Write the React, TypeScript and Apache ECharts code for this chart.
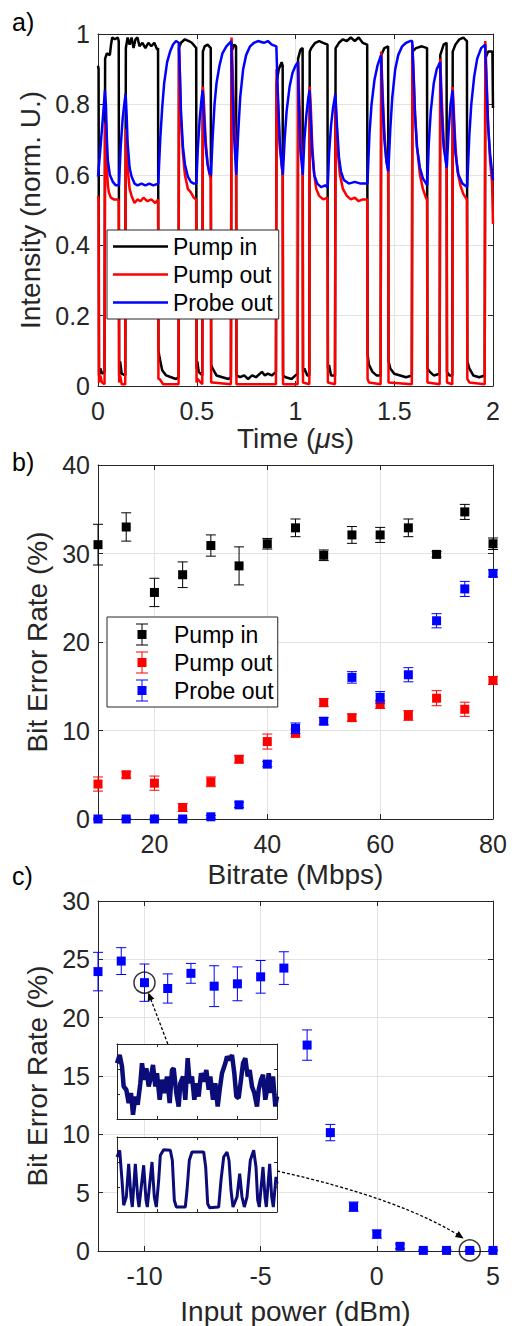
import React, { useEffect, useRef } from "react";
import * as echarts from "echarts";

// ---------------- Panel a: time traces (t in µs, normalized intensity) ----------------
const PUMP_IN_TRACE: number[][] = [
  [0, 0.91], [0.003, 0.9], [0.005, 0.03], [0.012, 0.05], [0.02, 0.035], [0.033, 0.04],
  [0.036, 0.93], [0.045, 0.945], [0.06, 0.94], [0.066, 0.97], [0.072, 0.99], [0.085, 0.985], [0.1, 0.99], [0.105, 0.98],
  [0.107, 0.03], [0.112, 0.07], [0.12, 0.035], [0.138, 0.03],
  [0.141, 0.96], [0.15, 0.99], [0.16, 0.97], [0.17, 0.99], [0.18, 0.96], [0.19, 0.985], [0.2, 0.99], [0.21, 0.965], [0.225, 0.975], [0.24, 0.96], [0.255, 0.975], [0.27, 0.965], [0.285, 0.975], [0.3, 0.955], [0.304, 0.96],
  [0.306, 0.1], [0.312, 0.08], [0.325, 0.045], [0.345, 0.03], [0.37, 0.025], [0.395, 0.02], [0.408, 0.025],
  [0.41, 0.96], [0.42, 0.975], [0.44, 0.985], [0.46, 0.98], [0.475, 0.975], [0.49, 0.965], [0.497, 0.96],
  [0.499, 0.05], [0.503, 0.07], [0.51, 0.04], [0.528, 0.03],
  [0.531, 0.95], [0.54, 0.965], [0.555, 0.97], [0.571, 0.96],
  [0.573, 0.06], [0.58, 0.05], [0.6, 0.03], [0.63, 0.025], [0.66, 0.02], [0.673, 0.025],
  [0.676, 0.95], [0.69, 0.97], [0.699, 0.965],
  [0.701, 0.03], [0.72, 0.025], [0.74, 0.03], [0.76, 0.02], [0.78, 0.03], [0.8, 0.025], [0.83, 0.04], [0.845, 0.03], [0.86, 0.035], [0.88, 0.03], [0.901, 0.04],
  [0.904, 0.86], [0.915, 0.9], [0.93, 0.92], [0.935, 0.91],
  [0.937, 0.03], [0.95, 0.025], [0.98, 0.02], [1.0, 0.03], [1.011, 0.035],
  [1.013, 0.93], [1.025, 0.955], [1.036, 0.96],
  [1.038, 0.04], [1.045, 0.05], [1.06, 0.03], [1.07, 0.03],
  [1.072, 0.95], [1.08, 0.96], [1.1, 0.975], [1.12, 0.98], [1.14, 0.975], [1.162, 0.97],
  [1.164, 0.05], [1.17, 0.06], [1.18, 0.03], [1.2, 0.03],
  [1.203, 0.96], [1.22, 0.975], [1.24, 0.985], [1.26, 0.98], [1.28, 0.99], [1.3, 0.98], [1.32, 0.99], [1.34, 0.975], [1.363, 0.97],
  [1.365, 0.09], [1.372, 0.06], [1.39, 0.04], [1.41, 0.03], [1.431, 0.03],
  [1.434, 0.94], [1.45, 0.96], [1.469, 0.965],
  [1.471, 0.07], [1.48, 0.05], [1.5, 0.035], [1.53, 0.03], [1.56, 0.025], [1.589, 0.03],
  [1.592, 0.95], [1.61, 0.96], [1.64, 0.965], [1.666, 0.96],
  [1.668, 0.05], [1.68, 0.04], [1.7, 0.03], [1.73, 0.035],
  [1.733, 0.94], [1.75, 0.97], [1.765, 0.975],
  [1.767, 0.04], [1.78, 0.03], [1.794, 0.03],
  [1.796, 0.95], [1.81, 0.97], [1.83, 0.985], [1.85, 0.99], [1.868, 0.98],
  [1.87, 0.07], [1.88, 0.05], [1.9, 0.03], [1.93, 0.025], [1.958, 0.03],
  [1.961, 0.93], [1.975, 0.95], [1.997, 0.95], [2.0, 0.79],
];

const PUMP_OUT_TRACE: number[][] = [
  [0, 0.54], [0.003, 0.53], [0.005, 0.01], [0.012, 0.03], [0.02, 0.01], [0.033, 0.005],
  [0.036, 0.74], [0.04, 0.75], [0.045, 0.62], [0.05, 0.57], [0.055, 0.55], [0.065, 0.535], [0.08, 0.53], [0.1, 0.53], [0.105, 0.525],
  [0.107, 0.01], [0.112, 0.03], [0.12, 0.005], [0.138, 0.005],
  [0.141, 0.73], [0.145, 0.72], [0.15, 0.62], [0.16, 0.56], [0.17, 0.54], [0.185, 0.52], [0.2, 0.53], [0.215, 0.525], [0.23, 0.535], [0.25, 0.525], [0.27, 0.53], [0.29, 0.52], [0.304, 0.53],
  [0.306, 0.02], [0.312, 0.02], [0.33, 0.005], [0.408, 0.005],
  [0.41, 0.97], [0.414, 0.9], [0.42, 0.76], [0.43, 0.66], [0.44, 0.6], [0.455, 0.56], [0.47, 0.55], [0.485, 0.535], [0.497, 0.53],
  [0.499, 0.01], [0.503, 0.02], [0.528, 0.005],
  [0.531, 0.85], [0.535, 0.82], [0.545, 0.7], [0.555, 0.63], [0.565, 0.6], [0.571, 0.59],
  [0.573, 0.01], [0.58, 0.01], [0.673, 0.005],
  [0.676, 0.99], [0.68, 0.93], [0.69, 0.75], [0.699, 0.66],
  [0.701, 0.005], [0.901, 0.005],
  [0.904, 0.9], [0.91, 0.82], [0.92, 0.68], [0.935, 0.6],
  [0.937, 0.005], [1.011, 0.005],
  [1.013, 0.92], [1.02, 0.8], [1.03, 0.67], [1.036, 0.62],
  [1.038, 0.01], [1.07, 0.005],
  [1.072, 0.85], [1.077, 0.8], [1.085, 0.68], [1.095, 0.6], [1.105, 0.56], [1.12, 0.54], [1.14, 0.53], [1.162, 0.535],
  [1.164, 0.01], [1.2, 0.005],
  [1.203, 0.8], [1.208, 0.75], [1.215, 0.66], [1.225, 0.6], [1.24, 0.56], [1.26, 0.54], [1.28, 0.53], [1.3, 0.535], [1.32, 0.525], [1.34, 0.53], [1.363, 0.53],
  [1.365, 0.02], [1.372, 0.01], [1.431, 0.005],
  [1.434, 0.95], [1.44, 0.85], [1.45, 0.72], [1.46, 0.64], [1.469, 0.61],
  [1.471, 0.01], [1.589, 0.005],
  [1.592, 0.97], [1.597, 0.9], [1.605, 0.78], [1.615, 0.68], [1.63, 0.6], [1.645, 0.56], [1.66, 0.535], [1.666, 0.53],
  [1.668, 0.01], [1.73, 0.005],
  [1.733, 0.93], [1.74, 0.82], [1.75, 0.7], [1.765, 0.62],
  [1.767, 0.01], [1.794, 0.005],
  [1.796, 0.85], [1.8, 0.8], [1.81, 0.68], [1.82, 0.61], [1.835, 0.57], [1.85, 0.545], [1.868, 0.53],
  [1.87, 0.02], [1.88, 0.01], [1.958, 0.005],
  [1.961, 0.98], [1.966, 0.9], [1.975, 0.75], [1.985, 0.64], [1.995, 0.58], [2.0, 0.46],
];

const PROBE_OUT_TRACE: number[][] = [
  [0, 0.595], [0.01, 0.66], [0.02, 0.73], [0.03, 0.8], [0.035, 0.84],
  [0.04, 0.8], [0.045, 0.7], [0.05, 0.64], [0.06, 0.6], [0.075, 0.58], [0.09, 0.57], [0.106, 0.57],
  [0.115, 0.68], [0.125, 0.76], [0.135, 0.81], [0.14, 0.83],
  [0.145, 0.77], [0.15, 0.69], [0.16, 0.62], [0.17, 0.595], [0.185, 0.575], [0.2, 0.57], [0.22, 0.575], [0.24, 0.57], [0.26, 0.575], [0.28, 0.57], [0.305, 0.575],
  [0.315, 0.7], [0.325, 0.79], [0.335, 0.86], [0.35, 0.92], [0.365, 0.95], [0.38, 0.97], [0.395, 0.98], [0.409, 0.975],
  [0.415, 0.88], [0.42, 0.78], [0.43, 0.68], [0.44, 0.63], [0.455, 0.595], [0.47, 0.58], [0.485, 0.575], [0.498, 0.575],
  [0.505, 0.67], [0.515, 0.76], [0.525, 0.82], [0.53, 0.84],
  [0.535, 0.78], [0.545, 0.68], [0.555, 0.63], [0.565, 0.605], [0.572, 0.6],
  [0.58, 0.7], [0.59, 0.8], [0.6, 0.86], [0.615, 0.91], [0.63, 0.945], [0.65, 0.965], [0.675, 0.98],
  [0.68, 0.86], [0.69, 0.7], [0.7, 0.6],
  [0.71, 0.72], [0.72, 0.82], [0.735, 0.9], [0.75, 0.94], [0.77, 0.965], [0.79, 0.975], [0.81, 0.98], [0.84, 0.975], [0.86, 0.98], [0.88, 0.97], [0.903, 0.965],
  [0.91, 0.84], [0.92, 0.7], [0.93, 0.63], [0.936, 0.6],
  [0.945, 0.7], [0.955, 0.78], [0.97, 0.85], [0.985, 0.89], [1.0, 0.91], [1.012, 0.92],
  [1.018, 0.78], [1.025, 0.67], [1.037, 0.6],
  [1.045, 0.7], [1.055, 0.77], [1.065, 0.82], [1.071, 0.84],
  [1.078, 0.75], [1.085, 0.66], [1.095, 0.6], [1.11, 0.575], [1.13, 0.565], [1.15, 0.57], [1.163, 0.565],
  [1.17, 0.66], [1.18, 0.74], [1.19, 0.79], [1.202, 0.83],
  [1.21, 0.74], [1.22, 0.65], [1.23, 0.61], [1.245, 0.585], [1.27, 0.575], [1.3, 0.58], [1.33, 0.575], [1.364, 0.575],
  [1.375, 0.72], [1.385, 0.8], [1.4, 0.87], [1.415, 0.91], [1.433, 0.94],
  [1.44, 0.82], [1.45, 0.7], [1.46, 0.64], [1.47, 0.61],
  [1.48, 0.73], [1.49, 0.82], [1.505, 0.9], [1.52, 0.94], [1.54, 0.965], [1.56, 0.975], [1.58, 0.98], [1.591, 0.98],
  [1.598, 0.88], [1.605, 0.77], [1.615, 0.68], [1.63, 0.62], [1.645, 0.59], [1.667, 0.57],
  [1.675, 0.69], [1.685, 0.78], [1.7, 0.86], [1.715, 0.9], [1.732, 0.92],
  [1.74, 0.78], [1.75, 0.68], [1.766, 0.62],
  [1.775, 0.72], [1.785, 0.8], [1.795, 0.84],
  [1.802, 0.75], [1.81, 0.66], [1.825, 0.6], [1.845, 0.575], [1.869, 0.565],
  [1.88, 0.71], [1.89, 0.8], [1.905, 0.88], [1.92, 0.93], [1.94, 0.96], [1.96, 0.97],
  [1.967, 0.86], [1.975, 0.74], [1.985, 0.66], [2.0, 0.585],
];

// ---------------- Panel b: BER vs bitrate ----------------
const BITRATE = [10, 15, 20, 25, 30, 35, 40, 45, 50, 55, 60, 65, 70, 75, 80];
const BER_PUMP_IN = [31.0, 33.0, 25.6, 27.6, 30.9, 28.6, 31.1, 32.9, 29.8, 32.1, 32.1, 32.9, 29.9, 34.7, 31.1];
const ERR_PUMP_IN = [2.3, 1.6, 1.6, 1.45, 1.2, 2.15, 0.6, 1.0, 0.6, 0.95, 0.85, 1.0, 0.3, 0.85, 0.65];
const BER_PUMP_OUT = [3.95, 5.0, 4.05, 1.3, 4.2, 6.75, 8.75, 9.7, 13.15, 11.45, 12.95, 11.7, 13.65, 12.4, 15.65];
const ERR_PUMP_OUT = [0.8, 0.35, 0.8, 0.45, 0.55, 0.4, 0.85, 0.45, 0.45, 0.4, 0.45, 0.55, 0.85, 0.8, 0.45];
const BER_PROBE_OUT = [0, 0, 0, 0, 0.25, 1.6, 6.2, 10.25, 11.05, 16.0, 13.75, 16.3, 22.4, 26.0, 27.75];
const ERR_PROBE_OUT = [0.1, 0.1, 0.1, 0.1, 0.15, 0.3, 0.3, 0.6, 0.4, 0.65, 0.65, 0.8, 0.8, 0.85, 0.4];

// ---------------- Panel c: BER vs input power ----------------
const POWER = [-12, -11, -10, -9, -8, -7, -6, -5, -4, -3, -2, -1, 0, 1, 2, 3, 4, 5];
const BER_POWER = [23.95, 24.85, 23.0, 22.5, 23.8, 22.7, 22.9, 23.5, 24.25, 17.65, 10.15, 3.8, 1.45, 0.4, 0.05, 0.05, 0.05, 0.05];
const ERR_POWER = [1.65, 1.15, 1.6, 1.25, 0.85, 1.75, 1.45, 1.4, 1.4, 1.3, 0.7, 0.4, 0.35, 0.2, 0.05, 0.05, 0.05, 0.05];
const CIRCLED = [[-10, 23.0], [4, 0.05]];

// insets (arbitrary units: time 0-4, amplitude 0-3)
const INSET_NOISY: number[][] = [
  [0, 2.23], [0.067, 2.56], [0.125, 2.1], [0.167, 1.3], [0.233, 1.17], [0.292, 0.64], [0.35, 1.04], [0.4, 0.17],
  [0.458, 0.9], [0.517, 0.57], [0.583, 1.43], [0.625, 2.23], [0.683, 1.57], [0.733, 2.03], [0.792, 1.3], [0.833, 1.57],
  [0.9, 2.16], [0.958, 1.3], [1.0, 1.83], [1.067, 0.77], [1.125, 1.57], [1.183, 1.04], [1.25, 1.7], [1.317, 0.64],
  [1.375, 1.96], [1.417, 2.03], [1.483, 1.04], [1.542, 0.5], [1.583, 1.43], [1.65, 1.7], [1.708, 0.77], [1.767, 2.43],
  [1.817, 1.43], [1.875, 1.7], [1.933, 0.77], [1.983, 1.43], [2.042, 0.9], [2.1, 1.83], [2.167, 1.5], [2.233, 1.96],
  [2.292, 1.17], [2.333, 1.7], [2.4, 0.77], [2.458, 1.43], [2.517, 0.5], [2.567, 1.17], [2.625, 1.83], [2.708, 2.23],
  [2.75, 2.5], [2.817, 2.36], [2.875, 2.56], [2.933, 1.83], [2.983, 0.9], [3.042, 0.84], [3.1, 1.57], [3.15, 2.23],
  [3.208, 2.43], [3.267, 1.7], [3.317, 1.96], [3.375, 1.3], [3.433, 1.04], [3.5, 0.5], [3.542, 1.17], [3.6, 1.57],
  [3.65, 1.77], [3.708, 0.77], [3.75, 1.17], [3.792, 1.83], [3.85, 1.04], [3.9, 1.7], [3.958, 0.5], [4.0, 0.9],
];
const INSET_CLEAN: number[][] = [
  [0, 2.2], [0.067, 2.47], [0.125, 1.27], [0.167, 0.27], [0.233, 0.6], [0.292, 1.93], [0.35, 0.6], [0.383, 0.2],
  [0.458, 1.93], [0.517, 0.6], [0.55, 0.2], [0.667, 1.87], [0.725, 0.47], [0.758, 0.2], [0.875, 2.0], [0.933, 0.6],
  [0.983, 0.2], [1.042, 1.27], [1.083, 2.27], [1.167, 2.49], [1.333, 2.47], [1.383, 2.07], [1.433, 0.47], [1.483, 0.2],
  [1.708, 0.2], [1.75, 0.87], [1.808, 2.07], [1.875, 2.4], [2.167, 2.4], [2.217, 1.8], [2.267, 0.33], [2.317, 0.17],
  [2.542, 0.2], [2.6, 1.27], [2.667, 2.2], [2.75, 2.4], [2.8, 2.07], [2.85, 0.87], [2.9, 0.2], [3.0, 0.6],
  [3.067, 1.53], [3.125, 0.6], [3.183, 0.2], [3.25, 0.6], [3.333, 2.07], [3.417, 2.47], [3.475, 1.8], [3.517, 0.47],
  [3.558, 0.2], [3.65, 1.8], [3.7, 0.6], [3.733, 0.2], [3.817, 1.93], [3.867, 0.6], [3.908, 0.2], [3.975, 1.4], [4.0, 1.13],
];

// ---------------- styling ----------------
const FONT = '"Liberation Sans", Arial, Helvetica, sans-serif';
const TXT = "#262626";
const GRID_LINE = "#e3e3e3";
const C_BLACK = "#000000";
const C_RED = "#ff0000";
const C_BLUE = "#0000ff";
const C_INSET = "#0c0c78";
const TICK_FS = 25;
const NAME_FS = 28;
const LEGEND_FS = 23;

const ERRBAR_ICON =
  "path://M0,0H12V1H0Z M5.5,1H6.5V6.5H5.5Z M1.5,6.5H10.5V15.5H1.5Z M5.5,15.5H6.5V21H5.5Z M0,21H12V22H0Z";

function errorBarItem(color: string) {
  return (_params: any, api: any) => {
    const x = api.value(0);
    const y = api.value(1);
    const e = api.value(2);
    const c = api.coord([x, y]);
    const hi = api.coord([x, y + e]);
    const lo = api.coord([x, y - e]);
    const cap = 5;
    const m = 4.5;
    const st = { stroke: color, lineWidth: 1, fill: "none" };
    return {
      type: "group",
      children: [
        { type: "line", shape: { x1: c[0], y1: hi[1], x2: c[0], y2: lo[1] }, style: st },
        { type: "line", shape: { x1: c[0] - cap, y1: hi[1], x2: c[0] + cap, y2: hi[1] }, style: st },
        { type: "line", shape: { x1: c[0] - cap, y1: lo[1], x2: c[0] + cap, y2: lo[1] }, style: st },
        { type: "rect", shape: { x: c[0] - m, y: c[1] - m, width: 2 * m, height: 2 * m }, style: { fill: color } },
      ],
    };
  };
}

function mainXAxes(gi: number, scale: any, name: string, nameGap: number, rich?: any) {
  const { hideMin, ...sc } = scale;
  const bottom = {
    type: "value", gridIndex: gi, position: "bottom", ...sc,
    name, nameLocation: "middle", nameGap,
    nameTextStyle: { fontSize: NAME_FS, color: TXT, fontFamily: FONT, rich },
    axisLine: { show: true, onZero: false, lineStyle: { color: TXT, width: 1 } },
    axisTick: { show: true, inside: true, length: 5, lineStyle: { color: TXT } },
    axisLabel: { show: true, margin: 12, fontSize: TICK_FS, color: TXT, fontFamily: FONT, showMinLabel: hideMin ? false : true },
    splitLine: { show: true, lineStyle: { color: GRID_LINE, width: 1 } },
  };
  const top = {
    type: "value", gridIndex: gi, position: "top", ...sc,
    axisLine: { show: true, onZero: false, lineStyle: { color: TXT, width: 1 } },
    axisTick: { show: true, inside: true, length: 5, lineStyle: { color: TXT } },
    axisLabel: { show: false },
    splitLine: { show: false },
  };
  return [bottom, top];
}

function mainYAxes(gi: number, scale: any, name: string, nameGap: number) {
  const left = {
    type: "value", gridIndex: gi, position: "left", ...scale,
    name, nameLocation: "middle", nameGap,
    nameTextStyle: { fontSize: NAME_FS, color: TXT, fontFamily: FONT },
    axisLine: { show: true, onZero: false, lineStyle: { color: TXT, width: 1 } },
    axisTick: { show: true, inside: true, length: 5, lineStyle: { color: TXT } },
    axisLabel: { show: true, margin: 8, fontSize: TICK_FS, color: TXT, fontFamily: FONT },
    splitLine: { show: true, lineStyle: { color: GRID_LINE, width: 1 } },
  };
  const right = {
    type: "value", gridIndex: gi, position: "right", ...scale,
    axisLine: { show: true, onZero: false, lineStyle: { color: TXT, width: 1 } },
    axisTick: { show: true, inside: true, length: 5, lineStyle: { color: TXT } },
    axisLabel: { show: false },
    splitLine: { show: false },
  };
  return [left, right];
}

function insetAxes(gi: number, dim: "x" | "y", max: number) {
  const base = {
    type: "value", gridIndex: gi, min: 0, max, interval: 1, z: 11,
    axisLine: { show: true, onZero: false, lineStyle: { color: TXT, width: 1 } },
    axisTick: { show: true, inside: true, length: 3, lineStyle: { color: TXT } },
    axisLabel: { show: false },
    splitLine: { show: false },
  };
  return dim === "x"
    ? [{ ...base, position: "bottom" }, { ...base, position: "top" }]
    : [{ ...base, position: "left" }, { ...base, position: "right" }];
}

function errSeries(name: string, color: string, xs: number[], ys: number[], es: number[], axisIdx: number) {
  return {
    type: "custom", name, xAxisIndex: axisIdx, yAxisIndex: axisIdx,
    data: xs.map((x, i) => [x, ys[i], es[i]]),
    encode: { x: 0, y: 1 },
    renderItem: errorBarItem(color),
    itemStyle: { color },
    z: 3,
  };
}

function traceSeries(name: string, color: string, data: number[][]) {
  return {
    type: "line", name, xAxisIndex: 0, yAxisIndex: 0, data,
    showSymbol: false, symbol: "none",
    lineStyle: { width: 2.5, color }, itemStyle: { color }, z: 2,
  };
}

function buildOption() {
  const xA = [
    ...mainXAxes(0, { min: 0, max: 2, interval: 0.5 }, "{n|Time (}{i|μ}{n|s)}", 38, {
      n: { fontSize: NAME_FS, color: TXT, fontFamily: FONT },
      i: { fontSize: NAME_FS, color: TXT, fontFamily: FONT, fontStyle: "italic" },
    }),
    ...mainXAxes(1, { min: 10, max: 80, splitNumber: 4, hideMin: true }, "Bitrate (Mbps)", 41),
    ...mainXAxes(2, { min: -12, max: 5, splitNumber: 3, hideMin: true }, "Input power (dBm)", 46),
    ...insetAxes(3, "x", 4),
    ...insetAxes(4, "x", 4),
  ];
  const yA = [
    ...mainYAxes(0, { min: 0, max: 1, interval: 0.2 }, "Intensity (norm. U.)", 53),
    ...mainYAxes(1, { min: 0, max: 40, interval: 10 }, "Bit Error Rate (%)", 47),
    ...mainYAxes(2, { min: 0, max: 30, interval: 5 }, "Bit Error Rate (%)", 47),
    ...insetAxes(3, "y", 3),
    ...insetAxes(4, "y", 3),
  ];
  const labelStyle = { fontSize: 25, fontWeight: "normal", color: "#000", fontFamily: FONT };
  return {
    animation: false,
    backgroundColor: "#ffffff",
    textStyle: { fontFamily: FONT },
    title: [
      { text: "a)", left: 12, top: 9, padding: 0, textStyle: labelStyle },
      { text: "b)", left: 12, top: 449, padding: 0, textStyle: labelStyle },
      { text: "c)", left: 12, top: 863, padding: 0, textStyle: labelStyle },
    ],
    grid: [
      { left: 98, top: 34, width: 395, height: 352 },
      { left: 98, top: 465, width: 395, height: 354 },
      { left: 98, top: 901, width: 395, height: 351 },
      { left: 117, top: 1044, width: 160, height: 75, show: true, backgroundColor: "#ffffff", borderWidth: 0, z: 10 },
      { left: 117, top: 1137, width: 160, height: 75, show: true, backgroundColor: "#ffffff", borderWidth: 0, z: 10 },
    ],
    xAxis: xA,
    yAxis: yA,
    legend: [
      {
        data: ["Pump in", "Pump out", "Probe out"],
        orient: "vertical", left: 107, top: 230,
        icon: "rect",
        itemWidth: 55, itemHeight: 2.5, itemGap: 5,
        padding: [5, 6, 5, 6],
        borderColor: TXT, borderWidth: 1, backgroundColor: "#ffffff",
        itemStyle: { borderWidth: 0 },
        textStyle: { fontSize: LEGEND_FS, color: "#000", fontFamily: FONT },
        selectedMode: false, z: 6,
      },
      {
        data: ["Pump in", "Pump out", "Probe out"],
        orient: "vertical", left: 107, top: 617,
        icon: ERRBAR_ICON,
        itemWidth: 12, itemHeight: 22, itemGap: 5,
        padding: [6, 4, 5, 29],
        borderColor: TXT, borderWidth: 1, backgroundColor: "#ffffff",
        itemStyle: { borderWidth: 0 },
        formatter: (name: string) => `{s| }{t|${name}}`,
        textStyle: {
          fontSize: LEGEND_FS, color: "#000", fontFamily: FONT,
          rich: {
            s: { width: 21, fontSize: LEGEND_FS },
            t: { fontSize: LEGEND_FS, color: "#000", fontFamily: FONT },
          },
        },
        selectedMode: false, z: 6,
      },
    ],
    series: [
      traceSeries("Pump in", C_BLACK, PUMP_IN_TRACE),
      traceSeries("Pump out", C_RED, PUMP_OUT_TRACE),
      traceSeries("Probe out", C_BLUE, PROBE_OUT_TRACE),
      errSeries("Pump in", C_BLACK, BITRATE, BER_PUMP_IN, ERR_PUMP_IN, 2),
      errSeries("Pump out", C_RED, BITRATE, BER_PUMP_OUT, ERR_PUMP_OUT, 2),
      errSeries("Probe out", C_BLUE, BITRATE, BER_PROBE_OUT, ERR_PROBE_OUT, 2),
      errSeries("BER", C_BLUE, POWER, BER_POWER, ERR_POWER, 4),
      {
        type: "scatter", name: "circled", xAxisIndex: 4, yAxisIndex: 4, data: CIRCLED,
        symbol: "circle", symbolSize: 21, clip: false, silent: true,
        itemStyle: { color: "rgba(0,0,0,0)", borderColor: "#000", borderWidth: 1.5 }, z: 4,
      },
      {
        type: "line", name: "inset noisy", xAxisIndex: 6, yAxisIndex: 6, data: INSET_NOISY,
        showSymbol: false, symbol: "none", lineStyle: { width: 4.5, color: C_INSET }, z: 12,
      },
      {
        type: "line", name: "inset clean", xAxisIndex: 8, yAxisIndex: 8, data: INSET_CLEAN,
        showSymbol: false, symbol: "none", lineStyle: { width: 3, color: C_INSET }, z: 12,
      },
    ],
  };
}

function arrowHead(tip: number[], from: number[]) {
  const dx = tip[0] - from[0];
  const dy = tip[1] - from[1];
  const L = Math.hypot(dx, dy) || 1;
  const ux = dx / L, uy = dy / L;
  const len = 8, half = 3.5;
  const bx = tip[0] - ux * len, by = tip[1] - uy * len;
  return {
    type: "polygon", z: 20,
    shape: { points: [[tip[0], tip[1]], [bx - uy * half, by + ux * half], [bx + uy * half, by - ux * half]] },
    style: { fill: "#000" },
  };
}

export default function App() {
  const ref = useRef<HTMLDivElement>(null);
  useEffect(() => {
    document.body.style.margin = "0";
    if (!ref.current) return;
    const chart = echarts.init(ref.current, undefined, { renderer: "svg" });
    chart.setOption(buildOption() as any);

    // annotation arrows anchored to data / inset coordinates
    const r = 10.5;
    const c1 = chart.convertToPixel({ xAxisIndex: 4, yAxisIndex: 4 } as any, CIRCLED[0]) as number[];
    const c2 = chart.convertToPixel({ xAxisIndex: 4, yAxisIndex: 4 } as any, CIRCLED[1]) as number[];
    const s1 = chart.convertToPixel({ xAxisIndex: 6, yAxisIndex: 6 } as any, [1.27, 3]) as number[];
    const s2 = chart.convertToPixel({ xAxisIndex: 8, yAxisIndex: 8 } as any, [4, 1.64]) as number[];
    const d1x = s1[0] - c1[0], d1y = s1[1] - c1[1];
    const d1 = Math.hypot(d1x, d1y);
    const t1 = [c1[0] + (d1x / d1) * r, c1[1] + (d1y / d1) * r];
    const t2 = [c2[0] - 0.46 * (r + 3), c2[1] - 0.89 * (r + 3)];
    const cp = [s2[0] + 0.68 * (t2[0] - s2[0]), s2[1] + 0.42 * (t2[1] - s2[1])];
    const dash = { stroke: "#000", lineWidth: 1.3, lineDash: [3, 2], fill: "none" };
    chart.setOption({
      graphic: [
        { type: "line", z: 20, shape: { x1: s1[0], y1: s1[1], x2: t1[0], y2: t1[1] }, style: dash },
        arrowHead(t1, s1),
        { type: "bezierCurve", z: 20, shape: { x1: s2[0], y1: s2[1], x2: t2[0], y2: t2[1], cpx1: cp[0], cpy1: cp[1] }, style: dash },
        arrowHead(t2, cp),
      ],
    } as any);
    return () => chart.dispose();
  }, []);
  return <div ref={ref} style={{ width: 515, height: 1326 }} />;
}
